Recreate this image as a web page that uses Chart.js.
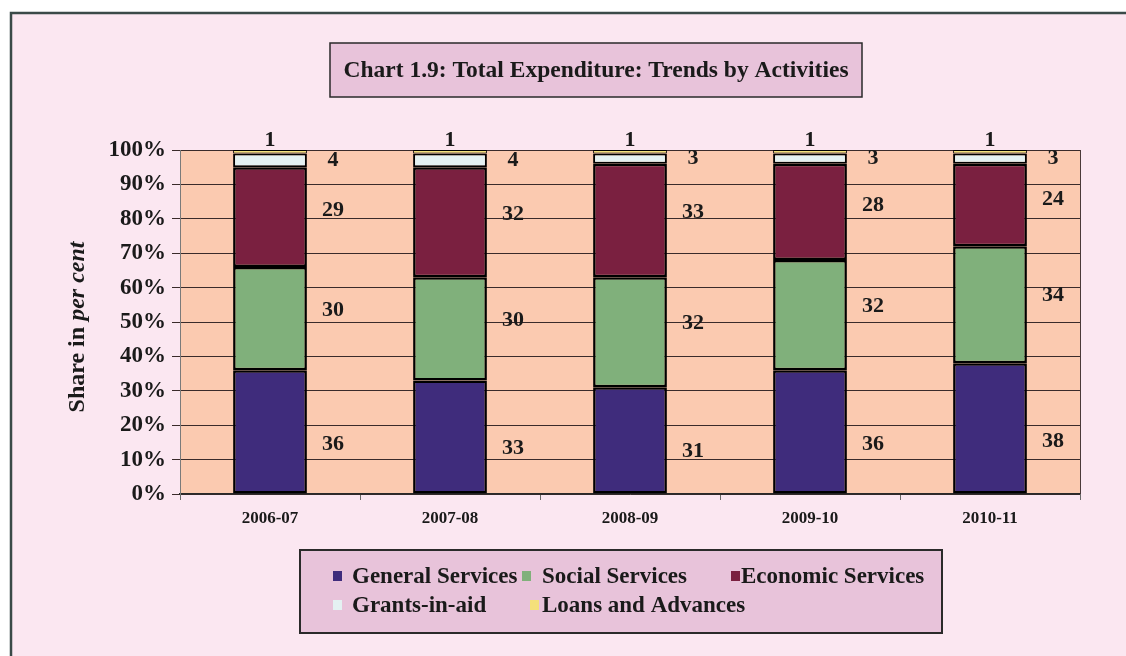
<!DOCTYPE html>
<html>
<head>
<meta charset="utf-8">
<script src="https://cdn.jsdelivr.net/npm/chart.js@4/dist/chart.umd.min.js"></script>
<style>
  html, body { margin: 0; padding: 0; background: #fff; }
  canvas { display: block; }
</style>
</head>
<body>
<canvas id="chart" width="1126" height="656"></canvas>
<script>
// values (share in per cent)
const categories = ['2006-07', '2007-08', '2008-09', '2009-10', '2010-11'];
const generalServices = [36, 33, 31, 36, 38];
const socialServices = [30, 30, 32, 32, 34];
const economicServices = [29, 32, 33, 28, 24];
const grantsInAid = [4, 4, 3, 3, 3];
const loansAndAdvances = [1, 1, 1, 1, 1];
const seriesNames = ['General Services', 'Social Services', 'Economic Services', 'Grants-in-aid', 'Loans and Advances'];
const yTickLabels = ['0%', '10%', '20%', '30%', '40%', '50%', '60%', '70%', '80%', '90%', '100%'];

const chartTitle = 'Chart 1.9: Total Expenditure: Trends by Activities';
const colors = ['#3f2c7c', '#80b07b', '#7a2040', '#e4f1f2', '#f4e07a'];
const borderWidths = [2.5, 2.5, 2.5, 2, 1];
const SERIF = '"Liberation Serif", "Times New Roman", serif';
const INK = '#1a1a1a';

const pagePlugin = {
  id: 'page',
  beforeDraw(chart) {
    const ctx = chart.ctx, a = chart.chartArea;
    ctx.save();
    ctx.fillStyle = '#ffffff';
    ctx.fillRect(0, 0, chart.width, chart.height);
    ctx.fillStyle = '#fbe7f1';
    ctx.fillRect(11, 13, chart.width - 11, chart.height - 13);
    // outer frame (only left and top edges show)
    ctx.strokeStyle = '#3a4a48';
    ctx.lineWidth = 2.5;
    ctx.beginPath();
    ctx.moveTo(11, chart.height);
    ctx.lineTo(11, 13);
    ctx.lineTo(chart.width, 13);
    ctx.stroke();

    // title box
    ctx.fillStyle = '#e8c3da';
    ctx.fillRect(330, 43, 532, 54);
    ctx.strokeStyle = '#2a2a2a';
    ctx.lineWidth = 1.5;
    ctx.strokeRect(330, 43, 532, 54);
    ctx.fillStyle = INK;
    ctx.font = 'bold 23.5px ' + SERIF;
    ctx.textAlign = 'center';
    ctx.textBaseline = 'middle';
    ctx.fillText(chartTitle, 596, 71);

    // plot background
    ctx.fillStyle = '#fbcab0';
    ctx.fillRect(a.left, a.top, a.right - a.left, a.bottom - a.top);

    // y axis title, second part in italics
    ctx.translate(78, 327);
    ctx.rotate(-Math.PI / 2);
    const p1 = 'Share in ', p2 = 'per cent';
    ctx.font = 'bold 24px ' + SERIF;
    const w1 = ctx.measureText(p1).width;
    ctx.font = 'bold italic 24px ' + SERIF;
    const w2 = ctx.measureText(p2).width;
    ctx.textAlign = 'left';
    ctx.fillStyle = INK;
    ctx.font = 'bold 24px ' + SERIF;
    ctx.fillText(p1, -(w1 + w2) / 2, 0);
    ctx.font = 'bold italic 24px ' + SERIF;
    ctx.fillText(p2, -(w1 + w2) / 2 + w1, 0);
    ctx.restore();
  },
  afterDraw(chart) {
    const ctx = chart.ctx, a = chart.chartArea;
    ctx.save();
    // right edge of plot area
    ctx.strokeStyle = '#4a3a3a';
    ctx.lineWidth = 1;
    ctx.beginPath();
    ctx.moveTo(a.right + 0.5, a.top);
    ctx.lineTo(a.right + 0.5, a.bottom);
    ctx.stroke();

    // legend box
    ctx.fillStyle = '#e8c3da';
    ctx.fillRect(300, 550, 642, 83);
    ctx.strokeStyle = '#2a2a2a';
    ctx.lineWidth = 2;
    ctx.strokeRect(300, 550, 642, 83);
    const spots = [[333, 352, 576], [522, 542, 576], [731, 741, 576], [333, 352, 605], [530, 542, 605]];
    ctx.font = 'bold 23px ' + SERIF;
    ctx.textAlign = 'left';
    ctx.textBaseline = 'middle';
    chart.data.datasets.forEach((ds, i) => {
      const [mx, tx, y] = spots[i];
      ctx.fillStyle = ds.backgroundColor;
      ctx.fillRect(mx, y - 5, 9, 10);
      ctx.fillStyle = INK;
      ctx.fillText(ds.label, tx, y + 1);
    });
    ctx.restore();
  }
};

// where along each segment its label sits (0 = bottom, 1 = top)
const labelAnchor = [0.4, 0.58, 0.57, 0.5];
const valueLabels = {
  id: 'valueLabels',
  afterDatasetsDraw(chart) {
    const ctx = chart.ctx;
    ctx.save();
    ctx.font = 'bold 22px ' + SERIF;
    ctx.fillStyle = INK;
    ctx.textBaseline = 'middle';
    ctx.textAlign = 'center';
    const last = chart.data.datasets.length - 1;
    chart.data.datasets.forEach((ds, di) => {
      const meta = chart.getDatasetMeta(di);
      meta.data.forEach((bar, i) => {
        const txt = String(ds.data[i]);
        if (di === last) {
          ctx.fillText(txt, bar.x, bar.y - 10);
        } else {
          const y = bar.base + (bar.y - bar.base) * labelAnchor[di];
          ctx.fillText(txt, bar.x + bar.width / 2 + 26, y);
        }
      });
    });
    ctx.restore();
  }
};

const seriesValues = [generalServices, socialServices, economicServices, grantsInAid, loansAndAdvances];

new Chart(document.getElementById('chart'), {
  type: 'bar',
  data: {
    labels: categories,
    datasets: seriesValues.map((vals, i) => ({
      label: seriesNames[i],
      data: vals,
      backgroundColor: colors[i],
      borderColor: '#000000',
      borderWidth: borderWidths[i],
      borderSkipped: false,
      categoryPercentage: 1,
      barPercentage: 0.41
    }))
  },
  options: {
    responsive: false,
    animation: false,
    layout: { padding: { top: 150, right: 46, left: 0, bottom: 0 } },
    plugins: {
      legend: { display: false },
      tooltip: { enabled: false },
      title: { display: false }
    },
    scales: {
      x: {
        stacked: true,
        afterFit(s) { s.height = 162; },
        grid: { drawOnChartArea: false, drawTicks: true, tickLength: 6, color: '#6a6a6a', offset: true },
        border: { color: '#2a2a2a', width: 1.5 },
        ticks: { color: INK, font: { family: SERIF, size: 17, weight: 'bold' }, padding: 8, maxRotation: 0 }
      },
      y: {
        stacked: true,
        min: 0,
        max: 100,
        afterFit(s) { s.width = 180; },
        grid: { color: '#3a2a2a', lineWidth: 1, tickLength: 8 },
        border: { color: '#7a7a7a', width: 1 },
        ticks: {
          stepSize: 10,
          padding: 6,
          color: INK,
          font: { family: SERIF, size: 23, weight: 'bold' },
          callback: (v) => yTickLabels[Math.round(v / 10)]
        }
      }
    }
  },
  plugins: [pagePlugin, valueLabels]
});
</script>
</body>
</html>
